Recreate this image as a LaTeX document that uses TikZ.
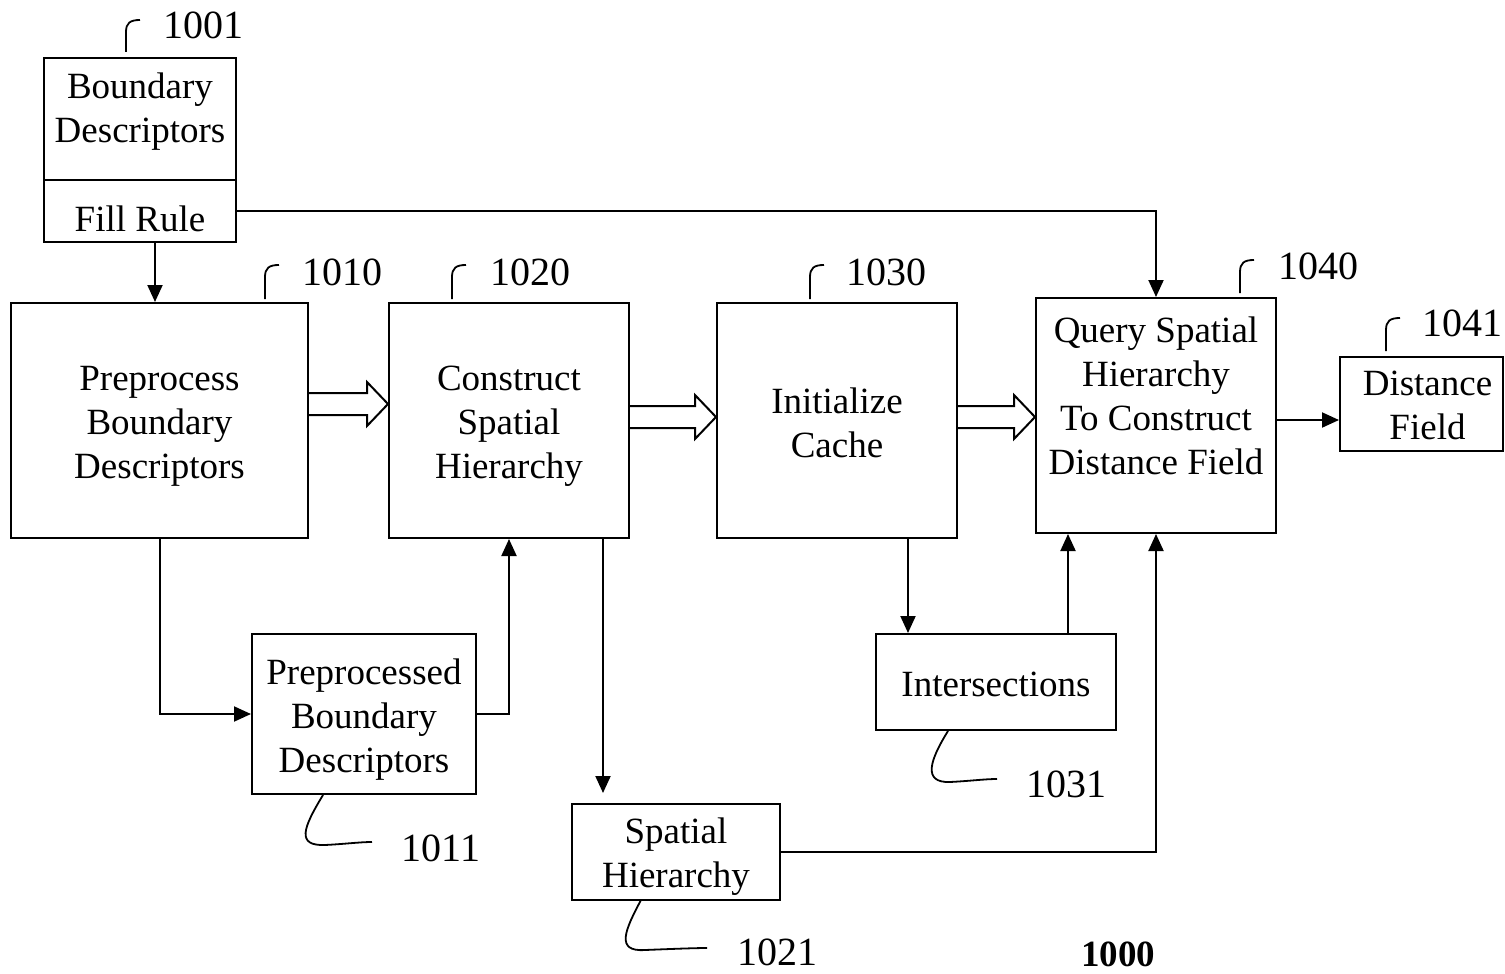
\documentclass[tikz,border=0pt]{standalone}
\usepackage{fontspec}
\setmainfont{Liberation Serif}
\usetikzlibrary{arrows.meta,calc}
\newcommand{\fatarrow}[2]{%
  \draw[ln] let \p1=(#1), \p2=(#2) in
    (\x1,\y1+11pt) -- (\x2-21pt,\y1+11pt) -- (\x2-21pt,\y1+22pt) -- (\x2,\y1)
    -- (\x2-21pt,\y1-22pt) -- (\x2-21pt,\y1-11pt) -- (\x1,\y1-11pt);}
\newcommand{\hookup}[3]{\draw[hk] (#1,#2) -- (#1,#3+12) .. controls (#1,#3+3) and (#1+4,#3) .. (#1+14,#3);}
\begin{document}
\begin{tikzpicture}[x=1pt,y=-1pt,
  box/.style={draw, rectangle, inner sep=0pt, line width=2pt},
  txt/.style={align=center, inner sep=0pt, font=\fontsize{37}{44}\selectfont},
  lbl/.style={inner sep=0pt, font=\fontsize{40}{44}\selectfont},
  ln/.style={line width=2pt},
  hk/.style={line width=1.8pt},
  arr/.style={line width=2pt, -{Triangle[length=17pt,width=15pt]}}]
\useasboundingbox (0,0) rectangle (1505,974);

% helper coordinates
\coordinate (c155) at (155,0);
\coordinate (c603) at (603,0);
\coordinate (c908) at (908,0);
\coordinate (c1068) at (1068,0);
\coordinate (y404) at (0,404);
\coordinate (y417) at (0,417);
\coordinate (y420) at (0,420);

% boxes
\node[box, minimum width=192pt, minimum height=122pt] (bd) at (140,119) {};
\node[box, minimum width=192pt, minimum height=62pt] (fill) at (140,211) {};
\node[box, minimum width=297pt, minimum height=235pt] (b1010) at (159.5,420.5) {};
\node[box, minimum width=240pt, minimum height=235pt] (b1020) at (509,420.5) {};
\node[box, minimum width=240pt, minimum height=235pt] (b1030) at (837,420.5) {};
\node[box, minimum width=240pt, minimum height=235pt] (b1040) at (1156,415.5) {};
\node[box, minimum width=163pt, minimum height=94pt] (b1041) at (1421.5,404) {};
\node[box, minimum width=224pt, minimum height=160pt] (b1011) at (364,714) {};
\node[box, minimum width=240pt, minimum height=96pt] (b1031) at (996,682) {};
\node[box, minimum width=208pt, minimum height=96pt] (b1021) at (676,852) {};

% texts
\node[txt] (tbd) at (140,112) {Boundary\\Descriptors};
\node[txt] (tfill) at (140,219) {Fill Rule};
\node[txt] (t1010) at ($(b1010.center)+(0,6)$) {Preprocess\\Boundary\\Descriptors};
\node[txt] (t1020) at ($(b1020.center)+(0,6)$) {Construct\\Spatial\\Hierarchy};
\node[txt] (t1030) at ($(b1030.center)+(0,2)$) {Initialize\\Cache};
\node[txt] (t1040) at (1156,396) {Query Spatial\\Hierarchy\\To Construct\\Distance Field};
\node[txt] (t1041) at ($(b1041.center)+(6,1)$) {Distance\\Field};
\node[txt] (t1011) at ($(b1011.center)+(0,6)$) {Preprocessed\\Boundary\\Descriptors};
\node[txt] (t1031) at ($(b1031.center)+(0,2)$) {Intersections};
\node[txt] (t1021) at ($(b1021.center)+(0,5)$) {Spatial\\Hierarchy};

% connectors
\draw[arr] (fill.east) -| (b1040.north);
\draw[arr] (fill.south -| c155) -- (b1010.north -| c155);
\fatarrow{b1010.east |- y404}{b1020.west |- y404}
\fatarrow{b1020.east |- y417}{b1030.west |- y417}
\fatarrow{b1030.east |- y417}{b1040.west |- y417}
\draw[arr] (b1040.east |- y420) -- (b1041.west |- y420);
\draw[arr] (b1010.south) |- (b1011.west);
\draw[arr] (b1011.east) -| (b1020.south);
\draw[arr, shorten >=10pt] (b1020.south -| c603) -- (b1021.north -| c603);
\draw[arr] (b1030.south -| c908) -- (b1031.north -| c908);
\draw[arr] (b1031.north -| c1068) -- (b1040.south -| c1068);
\draw[arr] (b1021.east) -| (b1040.south);

% reference hooks and labels
\hookup{126}{52}{20}
\hookup{265}{299}{265}
\hookup{452}{299}{265}
\hookup{810}{299}{265}
\hookup{1240}{293}{260}
\hookup{1386}{351}{318}
\node[lbl] (l1001) at (203,25) {1001};
\node[lbl] (l1010) at (342,272) {1010};
\node[lbl] (l1020) at (530,272) {1020};
\node[lbl] (l1030) at (886,272) {1030};
\node[lbl] (l1040) at (1318,266) {1040};
\node[lbl] (l1041) at (1462,323) {1041};

\draw[hk] (323,795) .. controls (303,828) and (296,846) .. (325,845)
  .. controls (345,844) and (360,842) .. (372,842);
\draw[hk] (948,731) .. controls (930,760) and (922,783) .. (950,782)
  .. controls (970,781) and (985,779) .. (997,779);
\draw[hk] (641,900) .. controls (625,930) and (615,952) .. (645,950)
  .. controls (670,949) and (695,948) .. (707,948);
\node[lbl] (l1011) at (441,848) {1011};
\node[lbl] (l1031) at (1066,784) {1031};
\node[lbl] (l1021) at (777,952) {1021};
\node[lbl, anchor=base, font=\fontsize{37}{44}\selectfont\bfseries] (l1000) at (1118,966) {1000};
\end{tikzpicture}
\end{document}
